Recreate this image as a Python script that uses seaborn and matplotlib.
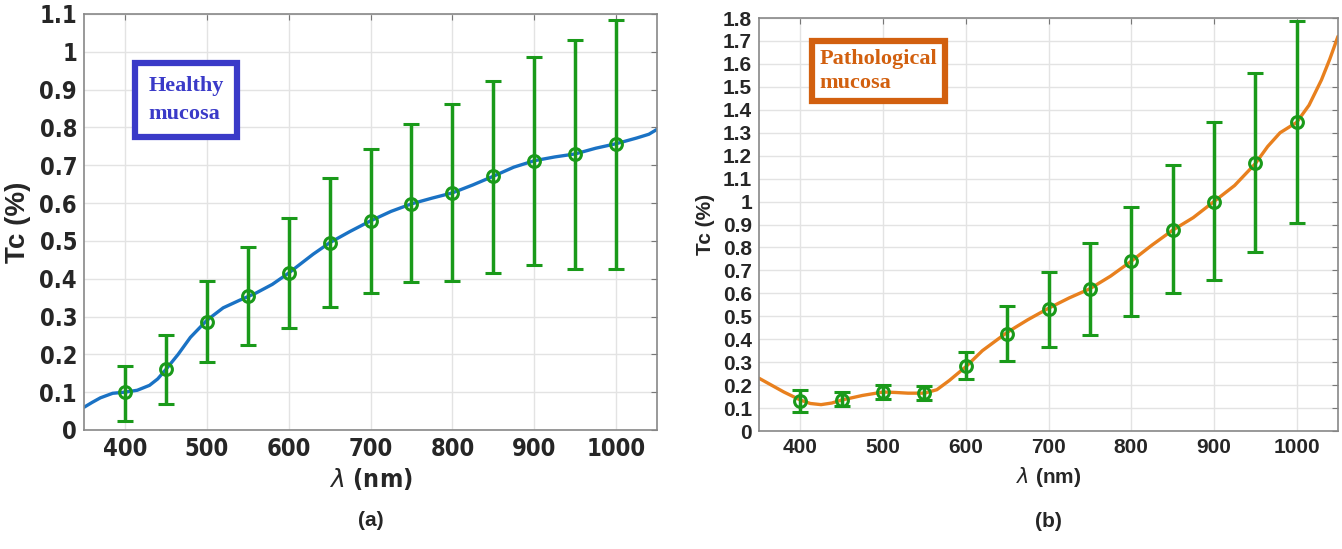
import matplotlib
matplotlib.use("Agg")

import matplotlib.pyplot as plt
import seaborn as sns
import pandas as pd

# -----------------------------
# DATA
# -----------------------------
healthy_wl = [350, 360, 370, 385, 400, 415, 430, 440, 450, 465, 480, 500, 520, 540, 560,
              580, 600, 615, 630, 650, 675, 700, 725, 750, 775, 800, 825, 850, 875,
              900, 925, 950, 975, 1000, 1025, 1040, 1050]
healthy_curve = [0.06, 0.073, 0.085, 0.097, 0.10, 0.105, 0.118, 0.135, 0.16, 0.20, 0.245,
                 0.29, 0.323, 0.343, 0.362, 0.385, 0.415, 0.44, 0.465, 0.495, 0.525, 0.553,
                 0.578, 0.598, 0.613, 0.627, 0.648, 0.671, 0.695, 0.712, 0.722, 0.73,
                 0.745, 0.757, 0.772, 0.782, 0.795]

patho_wl = [350, 365, 380, 400, 412, 425, 438, 450, 475, 500, 515, 530, 550, 565, 580,
            600, 620, 635, 650, 675, 700, 725, 750, 775, 800, 825, 850, 875, 900, 925,
            950, 965, 980, 1000, 1015, 1030, 1040, 1050]
patho_curve = [0.23, 0.2, 0.17, 0.135, 0.12, 0.115, 0.122, 0.135, 0.155, 0.17, 0.168, 0.165,
               0.165, 0.18, 0.22, 0.28, 0.35, 0.39, 0.43, 0.485, 0.535, 0.58, 0.62, 0.675,
               0.74, 0.81, 0.875, 0.93, 1.0, 1.07, 1.165, 1.24, 1.3, 1.345, 1.42, 1.53,
               1.62, 1.72]

wl_points = [400, 450, 500, 550, 600, 650, 700, 750, 800, 850, 900, 950, 1000]
healthy_mean = [0.10, 0.16, 0.285, 0.355, 0.415, 0.495, 0.553, 0.598, 0.627, 0.671, 0.712, 0.73, 0.757]
healthy_low = [0.025, 0.07, 0.18, 0.225, 0.27, 0.325, 0.362, 0.39, 0.393, 0.415, 0.435, 0.425, 0.425]
healthy_high = [0.17, 0.25, 0.395, 0.485, 0.56, 0.665, 0.743, 0.808, 0.862, 0.923, 0.985, 1.03, 1.085]

patho_mean = [0.13, 0.135, 0.17, 0.165, 0.285, 0.425, 0.53, 0.62, 0.74, 0.875, 1.0, 1.17, 1.345]
patho_low = [0.085, 0.11, 0.14, 0.135, 0.225, 0.305, 0.365, 0.42, 0.5, 0.6, 0.66, 0.78, 0.905]
patho_high = [0.18, 0.17, 0.2, 0.195, 0.345, 0.545, 0.695, 0.82, 0.975, 1.16, 1.345, 1.56, 1.785]

x_ticks = [400, 500, 600, 700, 800, 900, 1000]
y1_ticks = [0, 0.1, 0.2, 0.3, 0.4, 0.5, 0.6, 0.7, 0.8, 0.9, 1.0, 1.1]
y1_labels = ["0", "0.1", "0.2", "0.3", "0.4", "0.5", "0.6", "0.7", "0.8", "0.9", "1", "1.1"]
y2_ticks = [0, 0.1, 0.2, 0.3, 0.4, 0.5, 0.6, 0.7, 0.8, 0.9, 1.0, 1.1, 1.2, 1.3, 1.4,
            1.5, 1.6, 1.7, 1.8]
y2_labels = ["0", "0.1", "0.2", "0.3", "0.4", "0.5", "0.6", "0.7", "0.8", "0.9", "1",
             "1.1", "1.2", "1.3", "1.4", "1.5", "1.6", "1.7", "1.8"]

sns.set_style("whitegrid")
plt.rcParams['font.family'] = ['Liberation Sans', 'DejaVu Sans']

GREEN = "#1a9a1a"


def panel(ax, wl, curve, mean, low, high, color, ymax, yticks, ylabels, box_text,
          box_color, box_xy, box_pad, box_ls, tick_kw, tick_size, xlab_size, ylab_size,
          xlab_pad, letter):
    df = pd.DataFrame({"wl": wl, "tc": curve})
    sns.lineplot(data=df, x="wl", y="tc", ax=ax, color=color, linewidth=2.4)
    for ln in ax.lines:
        ln.set_solid_joinstyle("round")
    yerr = [[m - l for m, l in zip(mean, low)], [h - m for m, h in zip(mean, high)]]
    ax.errorbar(wl_points, mean, yerr=yerr, fmt="o", color=GREEN, mfc="none",
                mec=GREEN, mew=2.2, ms=8.5, elinewidth=2.5, capsize=6, capthick=2.5, zorder=3)
    ax.set_xlim(350, 1050)
    ax.set_ylim(0, ymax)
    ax.set_xticks(x_ticks)
    ax.set_yticks(yticks)
    ax.set_yticklabels(ylabels)
    for lab in ax.get_xticklabels() + ax.get_yticklabels():
        lab.set_fontweight("bold")
        lab.set_fontsize(tick_size)
        for k, v in tick_kw.items():
            getattr(lab, "set_" + k)(v)
    ax.tick_params(axis="both", which="both", direction="in", length=4, color="#777777",
                   top=True, right=True, pad=5)
    ax.grid(True, color="#e3e3e3", linewidth=1)
    for s in ax.spines.values():
        s.set_color("#888888")
        s.set_linewidth(1.2)
    ax.set_xlabel(r"$\lambda$ (nm)", fontsize=xlab_size, labelpad=xlab_pad,
                  fontweight="bold", **tick_kw)
    ax.set_ylabel("Tc (%)", fontsize=ylab_size, fontweight="bold", labelpad=6)
    ax.text(0.5, -0.218, letter, transform=ax.transAxes, ha="center", va="center",
            fontsize=15, fontweight="bold")
    ax.text(box_xy[0], box_xy[1], box_text, transform=ax.transAxes, ha="left", va="top",
            color=box_color, fontsize=16, fontweight="bold", fontfamily="Liberation Serif",
            linespacing=box_ls,
            bbox=dict(boxstyle="square,pad=%.2f" % box_pad, fc="white", ec=box_color, lw=4.5))


fig = plt.figure(figsize=(13.42, 5.49), dpi=100)
ax1 = fig.add_axes([0.0626, 0.2168, 0.427, 0.7577])
ax2 = fig.add_axes([0.5656, 0.2149, 0.4314, 0.7523])

panel(ax1, healthy_wl, healthy_curve, healthy_mean, healthy_low, healthy_high, "#1a72c4",
      1.1, y1_ticks, y1_labels, "Healthy\nmucosa", "#3a3ac8", (0.112, 0.85), 0.6, 1.5,
      {"fontfamily": "DejaVu Sans", "fontstretch": "condensed"}, 17, 18, 20, 4, "(a)")
panel(ax2, patho_wl, patho_curve, patho_mean, patho_low, patho_high, "#e8801e",
      1.8, y2_ticks, y2_labels, "Pathological\nmucosa", "#d2600f", (0.105, 0.925), 0.35, 1.25,
      {"fontfamily": "Liberation Sans"}, 15, 15, 15, 6, "(b)")

fig.savefig("out.png", dpi=100)
plt.close(fig)
